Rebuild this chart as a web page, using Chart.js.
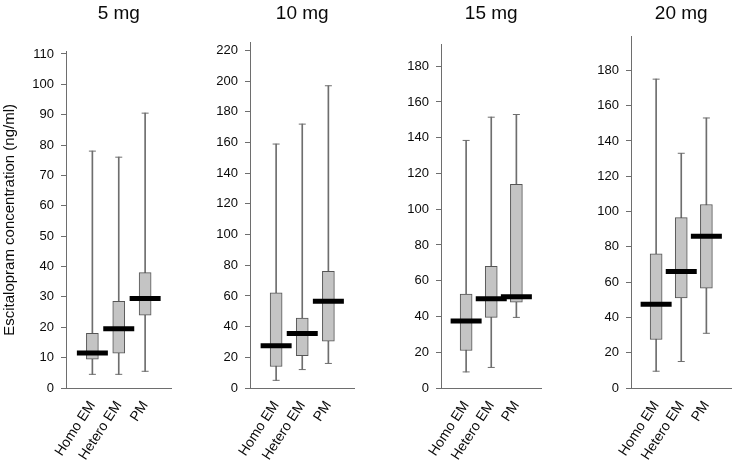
<!DOCTYPE html>
<html>
<head>
<meta charset="utf-8">
<script src="https://cdn.jsdelivr.net/npm/chart.js@4.4.1/dist/chart.umd.min.js"></script>
<style>
  body { margin: 0; background: #fff; }
  canvas { position: absolute; top: 0; }
</style>
</head>
<body>
<canvas id="c5" width="192" height="463" style="left:0px"></canvas>
<canvas id="c10" width="183" height="463" style="left:192px"></canvas>
<canvas id="c15" width="187" height="463" style="left:375px"></canvas>
<canvas id="c20" width="190" height="463" style="left:562px"></canvas>
<script>
const categories = ["Homo EM", "Hetero EM", "PM"];
const doses = ["5 mg", "10 mg", "15 mg", "20 mg"];

// per dose: whisker min, q1, median, q3, whisker max (Homo EM, Hetero EM, PM)
const mins5 = [4.5, 4.5, 5.5];
const q1s5 = [9.5, 11.5, 24];
const medians5 = [11.5, 19.5, 29.5];
const q3s5 = [18, 28.5, 38];
const maxs5 = [78, 76, 90.5];

const mins10 = [5, 12, 16];
const q1s10 = [14, 21, 30.5];
const medians10 = [27.5, 35.5, 56.5];
const q3s10 = [62, 45.5, 76];
const maxs10 = [159, 172, 197];

const mins15 = [9, 11.5, 39.5];
const q1s15 = [21, 39.5, 48];
const medians15 = [37.5, 50, 51];
const q3s15 = [52.5, 68, 114];
const maxs15 = [138.5, 151.5, 153];

const mins20 = [9.5, 15, 31];
const q1s20 = [27.5, 51, 56.5];
const medians20 = [47.5, 66, 86];
const q3s20 = [76, 96.5, 104];
const maxs20 = [175, 133, 153];

// y axis: upper end and tick step per panel
const yMax = [110.7, 225, 192, 199];
const yStep = [10, 20, 20, 20];

const axisGrey = "#6e6e6e";
const txt = "#0a0a0a";
const fam = "Liberation Sans, Arial";
const pad = (arr) => [null, ...arr, null];

function makePanel(id, idx, mins, q1s, meds, q3s, maxs, opts) {
  const labels = ["", ...categories, ""];
  new Chart(document.getElementById(id), {
    type: "bar",
    data: {
      labels: labels,
      datasets: [
        {
          type: "line",
          data: pad(meds),
          showLine: false,
          pointStyle: "line",
          pointRadius: 15.5,
          pointBorderWidth: 5,
          borderColor: "#000",
          order: 0,
        },
        {
          data: pad(q1s.map((v, i) => [v, q3s[i]])),
          backgroundColor: "#c4c4c4",
          borderColor: "#555",
          borderWidth: 1,
          borderSkipped: false,
          barThickness: 12,
          grouped: false,
          order: 1,
        },
        {
          type: "line",
          data: pad(mins),
          showLine: false,
          pointStyle: "line",
          pointRadius: 3.5,
          pointBorderWidth: 1,
          borderColor: axisGrey,
          order: 2,
        },
        {
          type: "line",
          data: pad(maxs),
          showLine: false,
          pointStyle: "line",
          pointRadius: 3.5,
          pointBorderWidth: 1,
          borderColor: axisGrey,
          order: 2,
        },
        {
          data: pad(mins.map((v, i) => [v, maxs[i]])),
          backgroundColor: axisGrey,
          borderWidth: 0,
          barThickness: 1,
          grouped: false,
          order: 3,
        },
      ],
    },
    options: {
      responsive: false,
      animation: false,
      layout: { padding: { right: opts.right } },
      plugins: {
        legend: { display: false },
        tooltip: { enabled: false },
        title: {
          display: true,
          text: doses[idx],
          fullSize: false,
          color: txt,
          font: { family: fam, size: 19, weight: "normal" },
          padding: { top: 2, bottom: opts.titleGap },
        },
      },
      scales: {
        x: {
          offset: false,
          grid: { display: false },
          border: { color: axisGrey, width: 1 },
          ticks: {
            autoSkip: false,
            maxRotation: 57,
            minRotation: 57,
            padding: 2,
            color: txt,
            font: { family: fam, size: 14 },
          },
          afterFit: (s) => { s.height = 75; },
        },
        y: {
          min: 0,
          max: yMax[idx],
          ticks: {
            padding: 7,
            color: txt,
            font: { family: fam, size: 13 },
          },
          grid: { drawOnChartArea: false, tickLength: 5, color: axisGrey },
          border: { color: axisGrey, width: 1 },
          title: {
            display: !!opts.yTitle,
            text: opts.yTitle || "",
            color: txt,
            padding: { top: 1, bottom: 0 },
            font: { family: fam, size: 15 },
          },
          afterBuildTicks: (s) => {
            const t = [];
            for (let v = 0; v <= yMax[idx]; v += yStep[idx]) t.push({ value: v });
            s.ticks = t;
          },
          afterFit: (s) => { s.width = opts.yWidth; },
        },
      },
    },
  });
}

makePanel("c5", 0, mins5, q1s5, medians5, q3s5, maxs5,
  { yWidth: 66, right: 7, titleGap: 27, yTitle: "Escitalopram concentration (ng/ml)" });
makePanel("c10", 1, mins10, q1s10, medians10, q3s10, maxs10,
  { yWidth: 58, right: 5, titleGap: 18 });
makePanel("c15", 2, mins15, q1s15, medians15, q3s15, maxs15,
  { yWidth: 66, right: 2, titleGap: 20 });
makePanel("c20", 3, mins20, q1s20, medians20, q3s20, maxs20,
  { yWidth: 69, right: 4, titleGap: 12 });
</script>
</body>
</html>
